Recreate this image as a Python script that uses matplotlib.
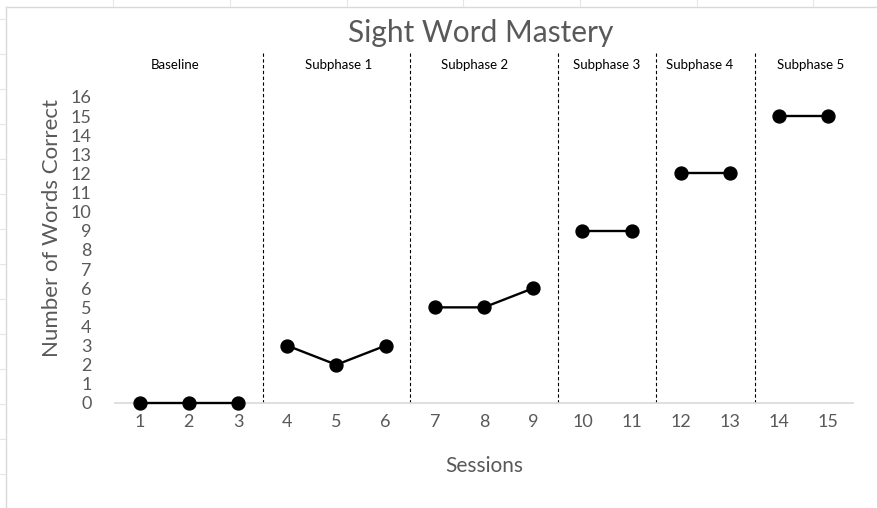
import matplotlib
matplotlib.use("Agg")
import matplotlib.pyplot as plt
from matplotlib.lines import Line2D

plt.rcParams['font.family'] = ['Lato', 'DejaVu Sans']

# session numbers and words correct, one list per phase
phase_sessions = [[1, 2, 3], [4, 5, 6], [7, 8, 9], [10, 11], [12, 13], [14, 15]]
phase_scores = [[0, 0, 0], [3, 2, 3], [5, 5, 6], [9, 9], [12, 12], [15, 15]]
phase_names = ['Baseline', 'Subphase 1', 'Subphase 2', 'Subphase 3', 'Subphase 4', 'Subphase 5']
phase_label_x = [1.73, 5.05, 7.8, 10.49, 12.38, 14.64]
phase_breaks = [3.5, 6.5, 9.5, 11.5, 13.5]
xticks = list(range(1, 16))
yticks = list(range(0, 17))

grey = '#595959'

fig = plt.figure(figsize=(8.78, 5.08), dpi=100)
ax = fig.add_axes([0.131, 0.2067, 0.8405, 0.6909])

for xs, ys in zip(phase_sessions, phase_scores):
    ax.plot(xs, ys, color='black', lw=1.7, marker='o', markersize=9.3,
            clip_on=False, zorder=5)

for b in phase_breaks:
    ax.axvline(b, color='black', lw=0.8, ls=(0, (3, 2.2)), zorder=2)

for name, lx in zip(phase_names, phase_label_x):
    ax.text(lx, 17.65, name, ha='center', va='center', fontsize=9.5, color='black')

ax.set_xlim(0.5, 15.5)
ax.set_ylim(0, 18.35)
ax.set_xticks(xticks)
ax.set_yticks(yticks)
ax.tick_params(axis='both', length=0, labelsize=13, labelcolor=grey)
ax.tick_params(axis='x', pad=8)
ax.tick_params(axis='y', pad=17)
for s in ['top', 'right', 'left']:
    ax.spines[s].set_visible(False)
ax.spines['bottom'].set_color('#d9d9d9')
ax.spines['bottom'].set_linewidth(1.2)

ax.set_xlabel('Sessions', fontsize=15, color=grey, labelpad=19)
ax.set_ylabel('Number of Words Correct', fontsize=16, color=grey, labelpad=6)
fig.text(0.548, 1 - 42 / 508, 'Sight Word Mastery', ha='center', va='baseline',
         fontsize=21.5, color=grey)

# chart area border and spreadsheet cell lines behind it
W, H = 878, 508
bc = '#d9d9d9'
fig.add_artist(Line2D([6 / W, 1], [1 - 7 / H, 1 - 7 / H], color=bc, lw=1))
fig.add_artist(Line2D([6 / W, 6 / W], [0, 1 - 7 / H], color=bc, lw=1))
for gx in [113, 230, 347, 463, 580, 697, 813]:
    fig.add_artist(Line2D([gx / W, gx / W], [1 - 6 / H, 1], color='#e6e6e6', lw=0.8))
for gy in range(19, 508, 35):
    fig.add_artist(Line2D([0, 5 / W], [1 - gy / H, 1 - gy / H], color='#e6e6e6', lw=0.8))

fig.savefig('out.png', dpi=100)
